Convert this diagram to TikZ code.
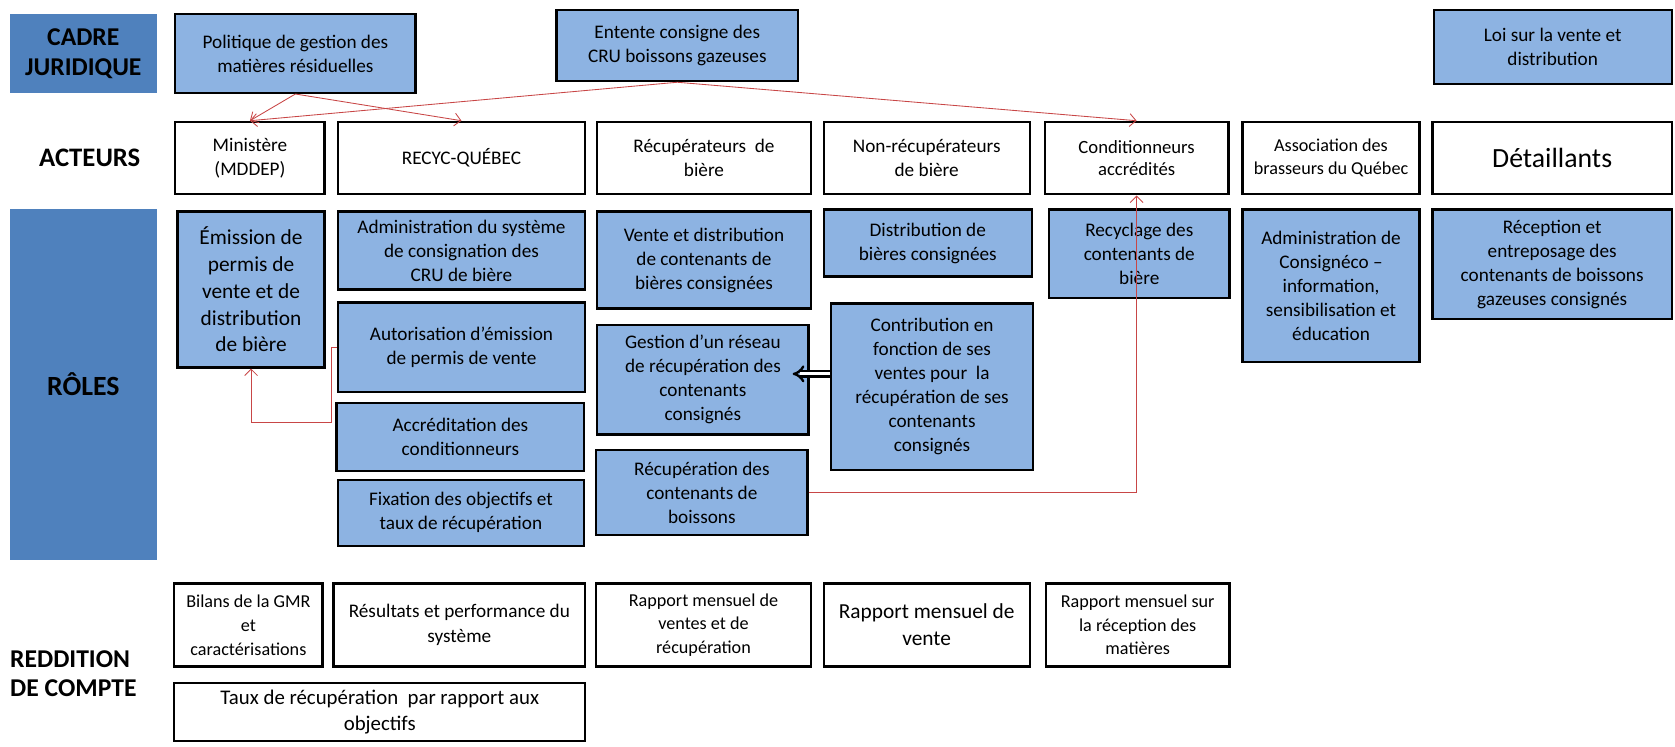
\documentclass[tikz,border=0pt]{standalone}
\usepackage{fontspec}
\setmainfont{Carlito}
\usetikzlibrary{arrows.meta}
\definecolor{boxblue}{RGB}{141,179,226}
\definecolor{labblue}{RGB}{79,129,189}
\definecolor{arrred}{RGB}{200,70,70}
\newcommand{\myfs}[2]{\fontsize{#1}{#2}\selectfont}
\newcommand{\mybox}[7]{\node[#6, minimum width={(#4-#2-2.2)*1pt}, minimum height={(#5-#3-2.2)*1pt}] (#1) at ({(#2+#4)/2},{(#3+#5)/2}) {#7};}
\begin{document}
\begin{tikzpicture}[x=1pt,y=-1pt,
  bx/.style={draw=black, line width=2.2pt, fill=white, align=center, inner sep=1pt, font=\myfs{18}{22.5}},
  bb/.style={bx, fill=boxblue},
  lab/.style={fill=labblue, align=center, inner sep=0pt, font=\bfseries\myfs{24}{28}},
  lt/.style={align=center, font=\bfseries\myfs{24}{28}},
  rarr/.style={draw=arrred, line width=0.8pt, -{Straight Barb[length=6pt,width=12pt]}},
  dbl/.style={draw=black, line width=2.2pt, double=white, double distance=3pt, -{Implies}}
]
\useasboundingbox (0,0) rectangle (1568,699);
% labels
\mybox{cadre}{8}{12}{148}{88}{lab}{CADRE\\JURIDIQUE}
\node[lt, font=\bfseries\myfs{25}{28}] (acteurs) at (84,148) {ACTEURS};
\mybox{roles}{8}{195}{148}{525}{lab, font=\bfseries\myfs{26}{30}}{RÔLES}
\node[lt, align=left, anchor=west, font=\bfseries\myfs{24}{27}] (reddition) at (6,631) {REDDITION\\DE COMPTE};
% row 1
\mybox{pol}{163}{12}{390}{88}{bb}{Politique de gestion des\\matières résiduelles}
\mybox{ent}{520}{8}{748}{77}{bb}{Entente consigne des\\CRU boissons gazeuses}
\mybox{loi}{1341}{8}{1566}{80}{bb}{Loi sur la vente et\\distribution}
% row 2
\mybox{min}{163}{113}{305}{183}{bx}{Ministère\\(MDDEP)}
\mybox{recyc}{315}{113}{549}{183}{bx}{RECYC-QUÉBEC}
\mybox{recb}{558}{113}{760}{183}{bx}{Récupérateurs~ de\\bière}
\mybox{nonrec}{770}{113}{965}{183}{bx}{Non-récupérateurs\\de bière}
\mybox{cond}{977}{113}{1151}{183}{bx, font=\myfs{17.5}{21}}{Conditionneurs\\accrédités}
\mybox{assoc}{1162}{113}{1330}{183}{bx, font=\myfs{17}{21}}{Association des\\brasseurs du Québec}
\mybox{det}{1340}{113}{1566}{183}{bx, font=\myfs{26}{30}}{Détaillants}
% row 3
\mybox{emis}{165}{197}{305}{345}{bb, font=\myfs{20}{25}}{Émission de\\permis de\\vente et de\\distribution\\de bière}
\mybox{adm}{315}{197}{549}{272}{bb}{Administration du système\\de consignation des\\CRU de bière}
\mybox{auto}{315}{282}{549}{368}{bb}{Autorisation d’émission\\de permis de vente}
\mybox{accr}{314}{376}{548}{442}{bb}{Accréditation des\\conditionneurs}
\mybox{fix}{315}{448}{548}{512}{bb}{Fixation des objectifs et\\taux de récupération}
\mybox{vente}{558}{197}{760}{290}{bb}{Vente et distribution\\de contenants de\\bières consignées}
\mybox{gest}{558}{303}{758}{408}{bb}{Gestion d’un réseau\\de récupération des\\contenants\\consignés}
\mybox{recup}{557}{420}{757}{502}{bb}{Récupération des\\contenants de\\boissons}
\mybox{distr}{770}{195}{967}{260}{bb}{Distribution de\\bières consignées}
\mybox{contr}{777}{283}{968}{441}{bb}{Contribution en\\fonction de ses\\ventes pour~ la\\récupération de ses\\contenants\\consignés}
\mybox{recy}{981}{195}{1152}{280}{bb}{Recyclage des\\contenants de\\bière}
\mybox{cons}{1162}{195}{1330}{340}{bb}{Administration de\\Consignéco –\\information,\\sensibilisation et\\éducation}
\mybox{recep}{1340}{195}{1566}{300}{bb}{Réception et\\entreposage des\\contenants de boissons\\gazeuses consignés}
% row 4
\mybox{bil}{162}{545}{303}{625}{bx, font=\myfs{17}{22.5}}{Bilans de la GMR\\et\\caractérisations}
\mybox{res}{311}{545}{549}{625}{bx, font=\myfs{18}{23}}{Résultats et performance du\\système}
\mybox{rap1}{557}{545}{760}{625}{bx, font=\myfs{17}{22}}{Rapport mensuel de\\ventes et de\\récupération}
\mybox{rap2}{770}{545}{965}{625}{bx, font=\myfs{20}{25}}{Rapport mensuel de\\vente}
\mybox{rap3}{978}{545}{1152}{625}{bx, font=\myfs{17}{22}}{Rapport mensuel sur\\la réception des\\matières}
\mybox{taux}{162}{638}{549}{695}{bx, font=\myfs{19.5}{25}}{Taux de récupération~ par rapport aux\\objectifs}
% connectors
\draw[rarr] (pol.south) -- (min.north);
\draw[rarr] (pol.south) -- (recyc.north);
\draw[rarr] (ent.south) -- (min.north);
\draw[rarr] (ent.south) -- (cond.north);
\draw[rarr] (recup.east) -| (cond.south);
\draw[rarr] (auto.west) -- ++(-5,0) -- ++(0,70) -| (emis.south);
\draw[dbl] ([yshift=12pt]contr.west) -- ([yshift=5.5pt,xshift=-16pt]gest.east);
\end{tikzpicture}
\end{document}
